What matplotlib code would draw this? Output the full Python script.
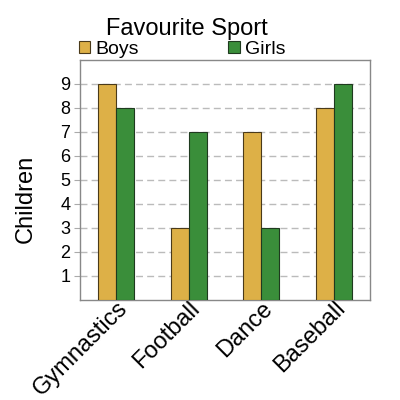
import numpy as np
from matplotlib import pyplot as plt

plt.rcParams['font.family'] = ['Liberation Sans', 'DejaVu Sans']

sports = ['Gymnastics', 'Football', 'Dance', 'Baseball']
boys = [9, 3, 7, 8]
girls = [8, 7, 3, 9]
yticks = [1, 2, 3, 4, 5, 6, 7, 8, 9]

BOYS_COLOR = '#ddb047'
GIRLS_COLOR = '#3a8e3a'
BAR_W = 0.25
W, H = 400, 400  # pixels

fig = plt.figure(figsize=(4, 4), dpi=100)
# axes box: x 80..370, y 60..300 (pixels from top)
ax = fig.add_axes([80 / W, 1 - 300 / H, 290 / W, 240 / H])

x = np.arange(len(sports))
ax.bar(x - BAR_W / 2, boys, BAR_W, color=BOYS_COLOR, edgecolor='#4a3a1a',
       linewidth=0.8, label='Boys', zorder=3)
ax.bar(x + BAR_W / 2, girls, BAR_W, color=GIRLS_COLOR, edgecolor='#1f3a1f',
       linewidth=0.8, label='Girls', zorder=3)

ax.set_xlim(-0.5, len(sports) - 0.5)
ax.set_ylim(0, 10)
ax.set_yticks(yticks)
ax.set_yticklabels([str(v) for v in yticks], fontsize=13)
ax.set_xticks(x)
ax.set_xticklabels(sports, rotation=45, ha='right', va='top',
                   rotation_mode='anchor', fontsize=17)
ax.tick_params(axis='x', length=0, pad=-2)
ax.tick_params(axis='y', length=4, color='#aaaaaa', pad=3)
ax.yaxis.grid(True, linestyle=(0, (5, 3)), color='#bbbbbb', linewidth=1, zorder=0)
for s in ax.spines.values():
    s.set_color('#888888')
    s.set_linewidth(1)

fig.text(187 / W, 1 - 35 / H, 'Favourite Sport', fontsize=17,
         ha='center', va='baseline')
fig.text(26 / W, 1 - 199 / H, 'Children', fontsize=17, rotation=90,
         ha='center', va='center')
fig.legend(loc='center left', bbox_to_anchor=(79 / W, 1 - 49 / H), ncol=2,
           frameon=False, fontsize=14, handlelength=0.58, handleheight=0.58,
           handletextpad=0.26, columnspacing=4.6, borderaxespad=0, borderpad=0)

fig.savefig('out.png')
